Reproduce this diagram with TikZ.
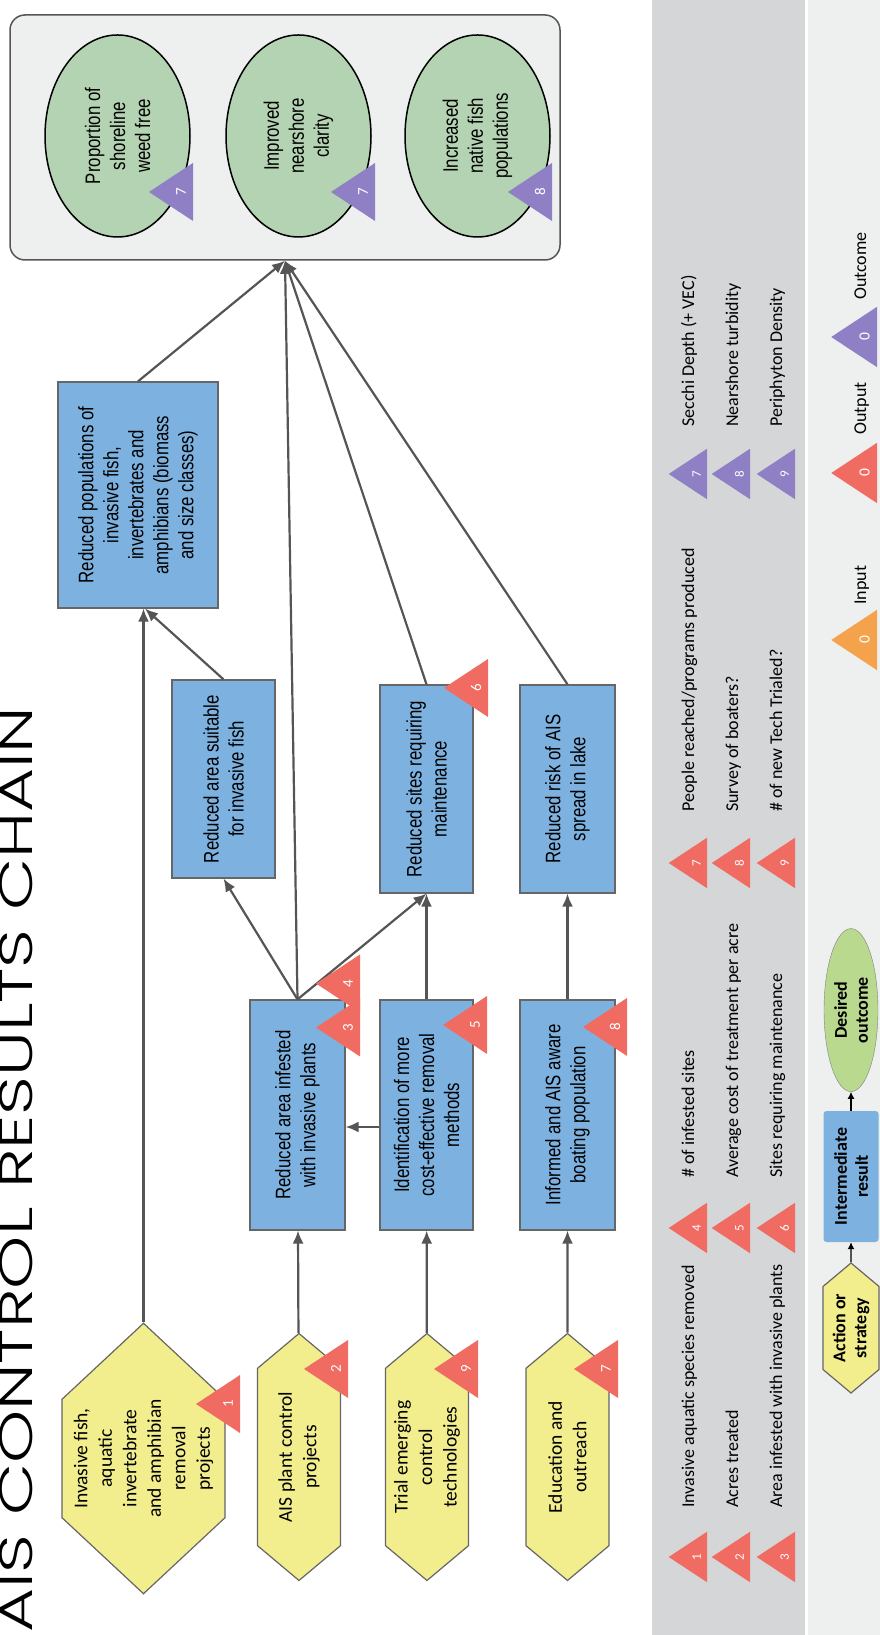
\documentclass[tikz,border=0pt]{standalone}
\usepackage{fontspec}
\setmainfont{Carlito}
\newfontfamily\boxfont{Liberation Sans}[FakeStretch=0.8]
\newfontfamily\titlefont{Poppins Light}
\usepackage{graphicx}
\usepackage{tikz}
\usetikzlibrary{arrows.meta,positioning,shapes.geometric,shapes.symbols,calc}

\definecolor{hexyellow}{HTML}{F2EE8E}
\definecolor{boxblue}{HTML}{7DB2E0}
\definecolor{sagegreen}{HTML}{B4D3B2}
\definecolor{keygreen}{HTML}{B9D98F}
\definecolor{trired}{HTML}{F06C62}
\definecolor{tripurple}{HTML}{8F80C6}
\definecolor{triorange}{HTML}{F5A24C}
\definecolor{bandgray}{HTML}{D4D6D7}
\definecolor{bandlight}{HTML}{EEEFEF}
\definecolor{linegray}{HTML}{555555}

\newcommand{\boxtext}{\boxfont\fontsize{21}{25}\selectfont}
\newcommand{\hextext}{\fontsize{19.5}{24.5}\selectfont}
\newcommand{\keytext}{\bfseries\fontsize{18}{21}\selectfont}
\newcommand{\listtext}{\fontsize{18}{22}\selectfont}

% numbered marker: [scale]{colour}{x}{y of base}{number}{name}
\newcommand{\marker}[6][1]{%
  \begin{scope}[shift={(#3,#4)}, scale=#1]
    \fill[#2] (-29,0) -- (29,0) -- (0,-44) -- cycle;
    \node (#6) [trinum] at (0,-12) {#5};
  \end{scope}}

\begin{document}
\begin{tikzpicture}[x=1pt, y=-1pt, rotate=90, transform shape,
    goal/.style={ellipse, draw=black, line width=1.5pt, fill=sagegreen, minimum width=202pt, minimum height=145pt, inner sep=0pt, align=center, font=\boxtext},
    result/.style={draw=gray!80!black, line width=1.2pt, fill=boxblue, align=center, inner sep=0pt, font=\boxtext},
    action/.style={signal, signal to=west and east, signal pointer angle=100, draw=gray!80!black, line width=1.2pt, fill=hexyellow, align=center, inner sep=0pt, font=\hextext},
    trinum/.style={text=white, inner sep=0pt, font=\fontsize{15}{15}\selectfont},
    listitem/.style={anchor=base west, inner sep=0pt, font=\listtext},
    arr/.style={draw=linegray, line width=2.2pt, -{Latex[length=13pt,width=11pt]}},
    keyarr/.style={draw=black, line width=1.2pt, -{Latex[length=7pt,width=7pt]}}]
  \useasboundingbox (0,0) rectangle (1635,880);

  % bands for indicators and key
  \fill[bandgray] (0,652) rectangle (1635,805);
  \fill[bandlight] (0,808) rectangle (1635,880);

  \node (title) [anchor=base west, inner sep=0pt] at (2,32) {\resizebox{926pt}{33pt}{\titlefont AIS CONTROL RESULTS CHAIN}};

  % desired outcomes
  \node (goals) [draw=linegray, line width=1.5pt, fill=bandlight, rounded corners=15pt, minimum width=245pt, minimum height=550pt] at (1497.5,285) {};
  \node (weedfree) [goal] at (1499,117.5) {Proportion of\\shoreline\\weed free};
  \node (clarity) [goal] at (1499,298.5) {Improved\\nearshore\\clarity};
  \node (nativefish) [goal] at (1499,477.5) {Increased\\native fish\\populations};

  % intermediate results
  \node (fishpop) [result, minimum width=226pt, minimum height=160pt] at (1140,138) {Reduced populations of\\invasive fish,\\invertebrates and\\amphibians (biomass\\and size classes)};
  \node (fishhabitat) [result, minimum width=198pt, minimum height=103pt] at (856,223.5) {Reduced area suitable\\for invasive fish};
  \node (sites) [result, minimum width=208pt, minimum height=93pt] at (846,426.5) {Reduced sites requiring\\maintenance};
  \node (spread) [result, minimum width=208pt, minimum height=95pt] at (846,567.5) {Reduced risk of AIS\\spread in lake};
  \node (infested) [result, minimum width=230pt, minimum height=95pt] at (520,297.5) {Reduced area infested\\with invasive plants};
  \node (methods) [result, minimum width=230pt, minimum height=93pt] at (520,426.5) {Identification of more\\cost-effective removal\\methods};
  \node (boaters) [result, minimum width=230pt, minimum height=95pt] at (520,567.5) {Informed and AIS aware\\boating population};

  % actions
  \node (removal) [action, signal pointer angle=94, minimum width=247pt, minimum height=163pt] at (176.5,143.5) {Invasive fish,\\aquatic\\invertebrate\\and amphibian\\removal\\projects};
  \node (plants) [action, minimum width=247pt, minimum height=83pt] at (178,299) {AIS plant control\\projects};
  \node (trials) [action, minimum width=247pt, minimum height=83pt] at (178,427) {Trial emerging\\control\\technologies};
  \node (outreach) [action, minimum width=247pt, minimum height=83pt] at (178,567.5) {Education and\\outreach};

  % links
  \draw[arr] (removal.east) -- (removal.east -| fishpop.west);
  \draw[arr] (fishhabitat.east) -- ($(fishpop.west)+(0,7)$);
  \draw[arr] (fishpop.east) -- (goals.west);
  \draw[arr] (plants) -- (infested);
  \draw[arr] (trials) -- (methods);
  \draw[arr] (outreach) -- (boaters);
  \draw[arr] (infested.east) -- (fishhabitat.west);
  \draw[arr] (infested.east) -- (sites.west);
  \draw[arr] (infested.east) -- (goals.west);
  \draw[arr] ($(methods.north)+(-12,0)$) -- ($(infested.south)+(-12,0)$);
  \draw[arr] (methods) -- (sites);
  \draw[arr] (boaters) -- (spread);
  \draw[arr] (sites.east) -- (goals.west);
  \draw[arr] (spread.east) -- (goals.west);

  % indicator markers on the chain
  \marker{trired}{231}{240}{1}{m1}
  \marker{trired}{266}{348}{2}{m2}
  \marker{trired}{266}{478}{9}{m9}
  \marker{trired}{266}{618}{7}{m7}
  \marker{trired}{607.5}{360}{3}{m3}
  \marker{trired}{651.5}{360}{4}{m4}
  \marker{trired}{610}{487}{5}{m5}
  \marker{trired}{947}{488}{6}{m6}
  \marker{trired}{608}{627}{8}{m8}
  \marker{tripurple}{1443}{193}{7}{p7a}
  \marker{tripurple}{1443}{375}{7}{p7b}
  \marker{tripurple}{1443}{552}{8}{p8}

  % indicator list
  \marker[0.87]{trired}{78}{707}{1}{l1}
  \marker[0.87]{trired}{78}{750}{2}{l2}
  \marker[0.87]{trired}{78}{795}{3}{l3}
  \marker[0.87]{trired}{407}{707}{4}{l4}
  \marker[0.87]{trired}{407}{750}{5}{l5}
  \marker[0.87]{trired}{407}{795}{6}{l6}
  \marker[0.87]{trired}{772}{707}{7}{l7}
  \marker[0.87]{trired}{772}{750}{8}{l8}
  \marker[0.87]{trired}{772}{795}{9}{l9}
  \marker[0.87]{tripurple}{1161}{707}{7}{q7}
  \marker[0.87]{tripurple}{1161}{750}{8}{q8}
  \marker[0.87]{tripurple}{1161}{795}{9}{q9}
  \node (d1) [listitem] at (127,694) {Invasive aquatic species removed};
  \node (d2) [listitem] at (127,738) {Acres treated};
  \node (d3) [listitem] at (127,782) {Area infested with invasive plants};
  \node (d4) [listitem] at (457,694) {\# of infested sites};
  \node (d5) [listitem] at (457,738) {Average cost of treatment per acre};
  \node (d6) [listitem] at (457,782) {Sites requiring maintenance};
  \node (d7) [listitem] at (823,694) {People reached/programs produced};
  \node (d8) [listitem] at (823,738) {Survey of boaters?};
  \node (d9) [listitem] at (823,782) {\# of new Tech Trialed?};
  \node (e7) [listitem] at (1208,694) {Secchi Depth (+ VEC)};
  \node (e8) [listitem] at (1208,738) {Nearshore turbidity};
  \node (e9) [listitem] at (1208,782) {Periphyton Density};

  % key
  \node (keyaction) [action, font=\keytext, minimum width=130pt, minimum height=56pt] at (307,851) {Action or\\strategy};
  \node (keyresult) [fill=boxblue, rounded corners=3pt, align=center, inner sep=0pt, font=\keytext, minimum width=131pt, minimum height=55pt, right=20pt of keyaction] {Intermediate\\result};
  \node (keyoutcome) [ellipse, draw=gray, fill=keygreen, align=center, inner sep=0pt, font=\keytext, minimum width=163pt, minimum height=54pt, right=19pt of keyresult] {Desired\\outcome};
  \draw[keyarr] (keyaction) -- (keyresult);
  \draw[keyarr] (keyresult) -- (keyoutcome);
  \marker[1.04]{triorange}{995}{877}{0}{k1}
  \marker[1.04]{trired}{1162}{877}{0}{k2}
  \marker[1.04]{tripurple}{1298}{877}{0}{k3}
  \node (input) [listitem] at (1030,866) {Input};
  \node (output) [listitem] at (1200,866) {Output};
  \node (outcome) [listitem] at (1335,866) {Outcome};
\end{tikzpicture}
\end{document}
